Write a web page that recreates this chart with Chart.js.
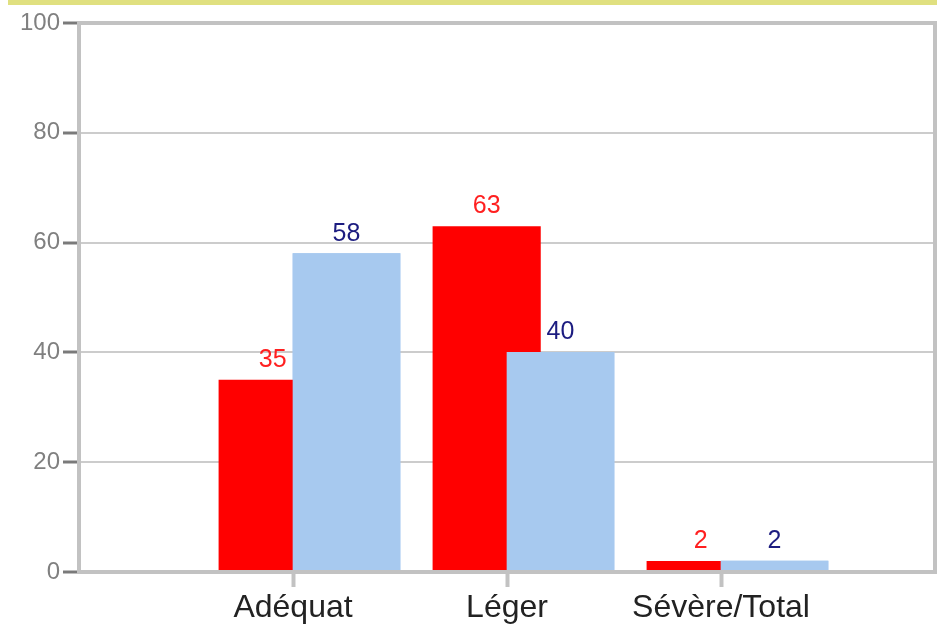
<!DOCTYPE html>
<html>
<head>
<meta charset="utf-8">
<script src="https://cdn.jsdelivr.net/npm/chart.js@4/dist/chart.umd.min.js"></script>
<style>
  body { margin: 0; background: #fff; }
  #wrap { position: relative; width: 942px; height: 626px; }
  #topbar { position: absolute; left: 8px; top: 0; width: 929px; height: 5px; background: #e0e080; }
</style>
</head>
<body>
<div id="wrap">
  <div id="topbar"></div>
  <canvas id="chart" width="942" height="626"></canvas>
</div>
<script>
// values
const categories = ["Adéquat", "Léger", "Sévère/Total"];
const redValues = [35, 63, 2];
const blueValues = [58, 40, 2];
const yTicks = [0, 20, 40, 60, 80, 100];

const labelColors = ["#ff2020", "#1c1c80"];
const font = '"Liberation Sans", Arial, sans-serif';

// empty slots at both ends, like the original axis
const labels = ["", ...categories, ""];
const pad = arr => [null, ...arr, null];

// blue bar sits over the red one, so draw it again after the rest
const redrawBlue = {
  id: "redrawBlue",
  afterDatasetsDraw(chart) {
    chart.getDatasetMeta(1).controller.draw();
  }
};

const frame = {
  id: "frame",
  afterDatasetsDraw(chart) {
    const { ctx, chartArea } = chart;
    ctx.save();
    ctx.strokeStyle = "#c2c2c2";
    ctx.lineWidth = 4;
    ctx.strokeRect(chartArea.left, chartArea.top, chartArea.right - chartArea.left, chartArea.bottom - chartArea.top);
    ctx.restore();
  }
};

const valueLabels = {
  id: "valueLabels",
  afterDatasetsDraw(chart) {
    const ctx = chart.ctx;
    chart.data.datasets.forEach((ds, i) => {
      const meta = chart.getDatasetMeta(i);
      meta.data.forEach((bar, j) => {
        const v = ds.data[j];
        if (v == null) return;
        ctx.save();
        ctx.font = "25px " + font;
        ctx.fillStyle = labelColors[i];
        ctx.textAlign = "center";
        ctx.textBaseline = "alphabetic";
        ctx.fillText(v, bar.x, bar.y - 13);
        ctx.restore();
      });
    });
  }
};

const data = {
  labels: labels,
  datasets: [
    {
      label: "Série 1",
      data: pad(redValues),
      backgroundColor: "#ff0000",
      categoryPercentage: 0.38,
      barPercentage: 2.66
    },
    {
      label: "Série 2",
      data: pad(blueValues),
      backgroundColor: "#a7c9ef",
      categoryPercentage: 1.0,
      barPercentage: 1.0
    }
  ]
};

const config = {
  type: "bar",
  data: data,
  options: {
    responsive: false,
    animation: false,
    layout: { padding: { left: 0, right: 7, top: 23, bottom: 0 } },
    plugins: {
      legend: { display: false },
      tooltip: { enabled: false }
    },
    scales: {
      x: {
        offset: false,
        border: { display: false },
        grid: {
          offset: false,
          drawOnChartArea: false,
          tickLength: 15,
          tickWidth: 4,
          tickColor: ctx => (ctx.tick && ctx.tick.label ? "#c2c2c2" : "rgba(0,0,0,0)")
        },
        ticks: {
          autoSkip: false,
          maxRotation: 0,
          padding: 2,
          color: "#222222",
          font: { family: font, size: 32 }
        },
        afterFit: scale => { scale.height = 54; }
      },
      y: {
        min: 0,
        max: 100,
        border: { display: false },
        grid: {
          color: "#cccccc",
          lineWidth: 2,
          tickColor: "#7a7a7a",
          tickLength: 16,
          tickWidth: 3
        },
        afterBuildTicks: scale => { scale.ticks = yTicks.map(v => ({ value: v })); },
        ticks: {
          padding: 3,
          color: "#808080",
          font: { family: font, size: 24 }
        },
        afterFit: scale => { scale.width = 79; }
      }
    }
  },
  plugins: [redrawBlue, frame, valueLabels]
};

const myChart = new Chart(document.getElementById("chart"), config);
</script>
</body>
</html>
